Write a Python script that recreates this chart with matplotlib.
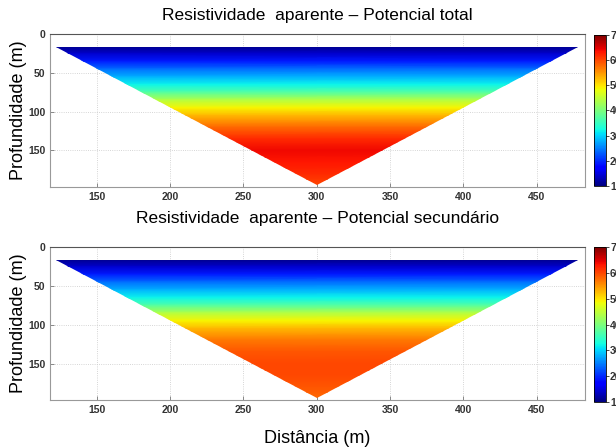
import numpy as np
import matplotlib
matplotlib.use("Agg")
import matplotlib.pyplot as plt
from matplotlib.patches import Polygon

plt.rcParams['font.family'] = ['Liberation Sans', 'DejaVu Sans']

# níveis de profundidade da pseudo-seção (m)
profundidades = [17, 25, 35, 45, 55, 65, 75, 85, 95, 105, 120, 135, 150, 165, 180, 195]
# resistividade aparente em cada nível (ohm.m)
rho_total = [11, 14, 19, 24, 28, 32, 37, 44, 49, 53, 58, 62, 64, 63, 62, 60]
rho_secundario = [11, 14, 19, 24, 28, 32, 37, 44, 49, 53, 57, 59, 60, 60, 59, 58]

# geometria da pseudo-seção
x_esq, x_dir, x_centro = 122, 478, 300
titulos = ["Resistividade  aparente \u2013 Potencial total",
           "Resistividade  aparente \u2013 Potencial secund\u00e1rio"]
xticks = [150, 200, 250, 300, 350, 400, 450]
yticks = [0, 50, 100, 150]
cticks = [10, 20, 30, 40, 50, 60, 70]

fig = plt.figure(figsize=(6.16, 4.48), dpi=100)
posicoes = [[0.0812, 0.5826, 0.8685, 0.3415], [0.0812, 0.1071, 0.8685, 0.3415]]
pos_cbar = [[0.964, 0.585, 0.0195, 0.337], [0.964, 0.103, 0.0195, 0.345]]
pads_titulo = [10, 17]

for k, rho in enumerate([rho_total, rho_secundario]):
    ax = fig.add_axes(posicoes[k])
    z = np.array(profundidades, dtype=float)
    X, Z = np.meshgrid([x_esq, x_dir], z)
    C = np.column_stack([rho, rho])
    pm = ax.pcolormesh(X, Z, C, shading='gouraud', cmap='jet', vmin=10, vmax=70)
    tri = Polygon([(x_esq, z[0]), (x_dir, z[0]), (x_centro, z[-1])],
                  closed=True, transform=ax.transData, facecolor='none', edgecolor='none')
    ax.add_patch(tri)
    pm.set_clip_path(tri)

    ax.set_xlim(118, 483)
    ax.set_ylim(197, 0)
    ax.set_xticks(xticks)
    ax.set_yticks(yticks)
    ax.grid(True, linestyle=':', color='#c8c8c8', linewidth=0.6)
    ax.set_axisbelow(True)
    ax.tick_params(direction='in', length=3, width=0.6, colors='#777777',
                   labelsize=7.5, labelcolor='#333333', top=False, right=False)
    for lab in ax.get_xticklabels() + ax.get_yticklabels():
        lab.set_fontweight('bold')
    for s in ax.spines.values():
        s.set_color('#999999')
        s.set_linewidth(0.8)
    ax.spines['top'].set_color('#555555')
    ax.set_title(titulos[k], fontsize=12.5, pad=pads_titulo[k])
    ax.set_ylabel("Profundidade (m)", fontsize=13, labelpad=1)

    cax = fig.add_axes(pos_cbar[k])
    cb = fig.colorbar(pm, cax=cax, ticks=cticks)
    cb.outline.set_linewidth(0.6)
    cax.tick_params(labelsize=7.5, length=2, width=0.5, labelcolor='#333333', pad=1)
    for lab in cax.get_yticklabels():
        lab.set_fontweight('bold')
    if k == 1:
        ax.set_xlabel("Dist\u00e2ncia (m)", fontsize=13, labelpad=11)

fig.savefig("out.png", dpi=100)
